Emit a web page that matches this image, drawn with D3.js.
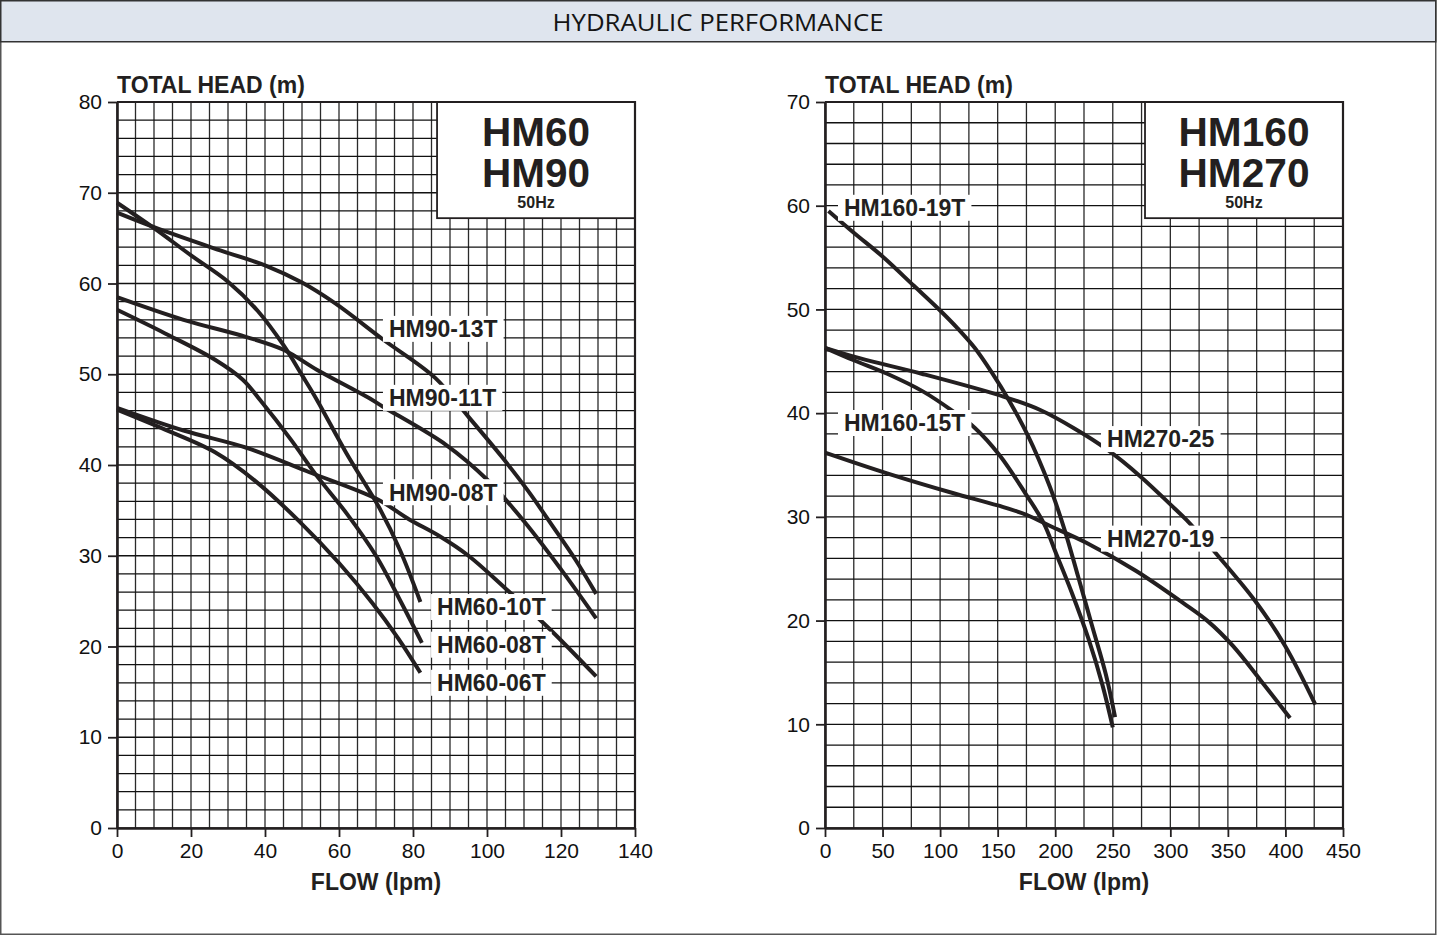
<!DOCTYPE html>
<html><head><meta charset="utf-8">
<script src="https://cdn.jsdelivr.net/npm/d3@7"></script>
<style>body{margin:0;background:#fff}svg{display:block}</style>
</head><body>
<svg id="c" width="1437" height="936"></svg>
<script>
// ---------- DATA ----------
const chartTitle = "HYDRAULIC PERFORMANCE";
const yAxisTitle = "TOTAL HEAD (m)";
const xAxisTitle = "FLOW (lpm)";

const leftXTicks = [0,20,40,60,80,100,120,140];
const leftYTicks = [0,10,20,30,40,50,60,70,80];
const rightXTicks = [0,50,100,150,200,250,300,350,400,450];
const rightYTicks = [0,10,20,30,40,50,60,70];

const leftModels = ["HM60","HM90"];
const rightModels = ["HM160","HM270"];
const freqLabel = "50Hz";

// Left panel curves: [flow lpm, head m]
const hm90_13T = [[0,67.8],[10,66.2],[26,63.9],[40,62.0],[50,60.1],[59,57.8],[72,53.8],[86,49.6],[95,45.3],[104,40.9],[111,37.2],[117.5,33.4],[124,29.5],[129.5,25.8]];
const hm60_10T = [[0,68.9],[10,66.1],[20,63.1],[30,60.2],[38,57.0],[45,53.2],[50,49.9],[54,47.2],[62,41.3],[71,35.2],[76.5,30.6],[82,24.9]];
const hm90_11T = [[0,58.5],[18,56.0],[35,54.1],[45,52.7],[54,50.5],[68,47.4],[72,46.4],[89,42.2],[100,38.4],[110,33.8],[120,28.5],[129.5,23.1]];
const hm60_08T = [[0,57.1],[13,54.5],[26.5,51.6],[34,49.4],[39,47.0],[47,42.8],[54,38.8],[62,34.7],[70,30.0],[76.5,25.1],[82.4,20.4]];
const hm90_08T = [[0,46.3],[18,43.8],[35,41.9],[52,39.2],[70,36.3],[79,34.0],[87,32.2],[95,30.0],[105,26.4],[116.5,22.1],[129.5,16.7]];
const hm60_06T = [[0,46.1],[13,43.9],[26.5,41.4],[37.5,38.2],[49,33.9],[60,29.2],[69,24.8],[76,20.9],[82,17.1]];

// Right panel curves
const hm160_19T = [[3,59.5],[25,57.4],[50,55.1],[77,52.3],[100,49.9],[115,48.2],[130,46.3],[145,43.9],[160,41.2],[176,37.9],[195,33.0],[208,28.8],[220,24.2],[232,19.5],[244,14.8],[252,10.7]];
const hm160_15T = [[0,46.3],[25,45.1],[54,43.8],[85,42.1],[111,40.2],[130,38.6],[152,35.9],[175,32.1],[190,29.4],[201,26.4],[214,22.8],[229,18.2],[241,13.8],[250,9.7]];
const hm270_25 = [[0,46.3],[30,45.3],[84,43.8],[155,41.6],[187,40.3],[217,38.5],[245,36.5],[274,33.9],[300,31.2],[314,29.7],[341,26.3],[375,21.7],[400,17.5],[426,11.9]];
const hm270_19 = [[0,36.2],[54,34.2],[111,32.3],[150,31.1],[175,30.2],[198,29.0],[227,27.5],[270,24.8],[311,21.7],[333,19.9],[354,17.6],[378,14.3],[404,10.6]];

const leftSeries = [
  {name:"HM90-13T", pts:hm90_13T}, {name:"HM60-10T", pts:hm60_10T},
  {name:"HM90-11T", pts:hm90_11T}, {name:"HM60-08T", pts:hm60_08T},
  {name:"HM90-08T", pts:hm90_08T}, {name:"HM60-06T", pts:hm60_06T}
];
const rightSeries = [
  {name:"HM160-19T", pts:hm160_19T}, {name:"HM160-15T", pts:hm160_15T},
  {name:"HM270-25", pts:hm270_25}, {name:"HM270-19", pts:hm270_19}
];

// Label anchor (text left, vertical centre) in data units
const leftLabels = [
  {name:"HM90-13T", f:73.5, h:55.0},{name:"HM90-11T", f:73.5, h:47.4},{name:"HM90-08T", f:73.5, h:37.0},
  {name:"HM60-10T", f:86.5, h:24.35},{name:"HM60-08T", f:86.5, h:20.2},{name:"HM60-06T", f:86.5, h:16.0}
];
const rightLabels = [
  {name:"HM160-19T", f:16.5, h:59.8},{name:"HM160-15T", f:16.5, h:39.05},
  {name:"HM270-25", f:245, h:37.5},{name:"HM270-19", f:245, h:27.9}
];

// ---------- DRAW ----------
const svg = d3.select("#c");
const INK = "#231f20";
const FONT = "Liberation Sans, Arial, sans-serif";

svg.append("rect").attr("x",0.75).attr("y",0.75).attr("width",1435).attr("height",933.5)
  .attr("fill","#fff").attr("stroke","#555").attr("stroke-width",1.5);
svg.append("rect").attr("x",0.75).attr("y",0.75).attr("width",1435).attr("height",41)
  .attr("fill","#dfe5ee").attr("stroke","#333").attr("stroke-width",1.5);
svg.append("text").attr("x",718).attr("y",30.5).attr("text-anchor","middle")
  .attr("font-family","Open Sans, sans-serif").attr("font-size",24).attr("fill","#151515")
  .attr("textLength",331).attr("lengthAdjust","spacingAndGlyphs").text(chartTitle);

function panel(cfg){
  const x = d3.scaleLinear().domain([cfg.xTicks[0], cfg.xTicks[cfg.xTicks.length-1]]).range([cfg.left, cfg.right]);
  const y = d3.scaleLinear().domain([cfg.yTicks[0], cfg.yTicks[cfg.yTicks.length-1]]).range([cfg.bottom, cfg.top]);
  const g = svg.append("g");

  // grid
  const gx = d3.range(x.domain()[0], x.domain()[1]+1e-9, cfg.gridX);
  const gy = d3.range(y.domain()[0], y.domain()[1]+1e-9, cfg.gridY);
  g.append("g").selectAll("line").data(gx).join("line")
    .attr("x1",d=>x(d)).attr("x2",d=>x(d)).attr("y1",cfg.top).attr("y2",cfg.bottom)
    .attr("stroke","#2a2a2a").attr("stroke-width",1.3);
  g.append("g").selectAll("line").data(gy).join("line")
    .attr("y1",d=>y(d)).attr("y2",d=>y(d)).attr("x1",cfg.left).attr("x2",cfg.right)
    .attr("stroke","#111").attr("stroke-width",1.3);

  // model box
  const bx0 = x(cfg.box.f0), by1 = y(cfg.box.h0);
  g.append("rect").attr("x",bx0).attr("y",cfg.top).attr("width",cfg.right-bx0).attr("height",by1-cfg.top)
    .attr("fill","#fff").attr("stroke",INK).attr("stroke-width",1.8);
  const bcx = (bx0+cfg.right)/2;
  cfg.models.forEach((m,i)=>{
    g.append("text").attr("x",bcx).attr("y",cfg.top+44+i*41).attr("text-anchor","middle")
      .attr("font-family",FONT).attr("font-weight","bold")
      .attr("font-size",40).attr("fill",INK)
      .attr("textLength",cfg.modelWidth).attr("lengthAdjust","spacingAndGlyphs").text(m);
  });
  g.append("text").attr("x",bcx).attr("y",cfg.top+106).attr("text-anchor","middle")
    .attr("font-family",FONT).attr("font-weight","bold")
    .attr("font-size",16).attr("fill",INK).text(freqLabel);

  // curves
  const line = d3.line().x(d=>x(d[0])).y(d=>y(d[1])).curve(d3.curveCatmullRom.alpha(0.5));
  g.append("g").selectAll("path").data(cfg.series).join("path")
    .attr("d",d=>line(d.pts)).attr("fill","none").attr("stroke",INK).attr("stroke-width",4);

  // labels
  cfg.labels.forEach(l=>{
    const lg = g.append("g");
    const t = lg.append("text").attr("x",x(l.f)).attr("y",y(l.h)).attr("dy","0.36em")
      .attr("font-family",FONT).attr("font-weight","bold")
      .attr("font-size",23).attr("fill",INK).text(l.name);
    const bb = t.node().getBBox();
    lg.insert("rect","text").attr("x",bb.x-6).attr("y",y(l.h)-13).attr("width",bb.width+12).attr("height",26).attr("fill","#fff");
  });

  // axes
  const ax = g.append("g").attr("transform",`translate(0,${cfg.bottom})`)
    .call(d3.axisBottom(x).tickValues(cfg.xTicks).tickSize(9).tickSizeOuter(0).tickPadding(6).tickFormat(d3.format("d")));
  const ay = g.append("g").attr("transform",`translate(${cfg.left},0)`)
    .call(d3.axisLeft(y).tickValues(cfg.yTicks).tickSize(9).tickSizeOuter(0).tickPadding(6).tickFormat(d3.format("d")));
  [ax,ay].forEach(a=>{
    a.select(".domain").attr("stroke",INK).attr("stroke-width",2.6);
    a.selectAll(".tick line").attr("stroke",INK).attr("stroke-width",1.8);
    a.selectAll(".tick text").attr("font-family",FONT).attr("font-size",21).attr("fill","#111");
  });
  // frame top & right
  g.append("path").attr("d",`M${cfg.left},${cfg.top}H${cfg.right}V${cfg.bottom}`)
    .attr("fill","none").attr("stroke",INK).attr("stroke-width",2.2);

  // axis titles
  g.append("text").attr("x",cfg.left).attr("y",cfg.top-9)
    .attr("font-family",FONT).attr("font-weight","bold")
    .attr("font-size",23).attr("fill",INK).text(yAxisTitle);
  g.append("text").attr("x",(cfg.left+cfg.right)/2).attr("y",cfg.bottom+62).attr("text-anchor","middle")
    .attr("font-family",FONT).attr("font-weight","bold")
    .attr("font-size",23).attr("fill",INK).text(xAxisTitle);
}

panel({left:117,right:635,top:102,bottom:828,xTicks:leftXTicks,yTicks:leftYTicks,gridX:5,gridY:2,
  box:{f0:86.5,h0:67.2},models:leftModels,modelWidth:108,series:leftSeries,labels:leftLabels});
panel({left:825,right:1343,top:102,bottom:828,xTicks:rightXTicks,yTicks:rightYTicks,gridX:25,gridY:2,
  box:{f0:278,h0:58.8},models:rightModels,modelWidth:131,series:rightSeries,labels:rightLabels});
</script>
</body></html>
